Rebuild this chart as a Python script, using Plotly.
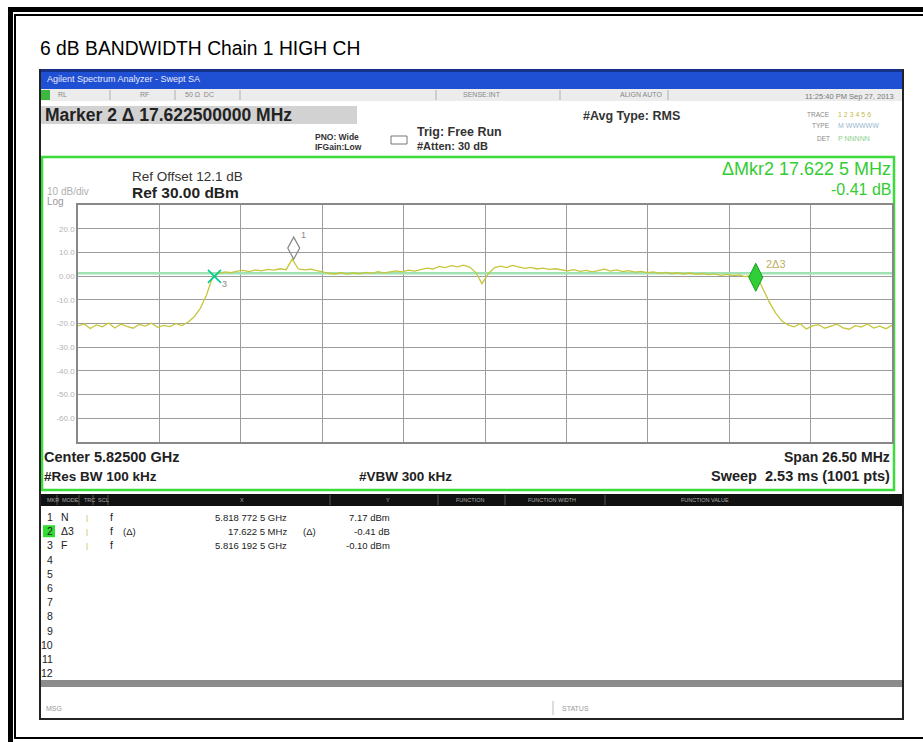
import numpy as np
import plotly.graph_objects as go

W, H = 923, 742

# ---------------- data ----------------
title_text = "6 dB BANDWIDTH Chain 1 HIGH CH"
center_ghz = 5.825
span_mhz = 26.5
ref_level_dbm = 30.0
db_per_div = 10.0

trace_dbm = [
    -21.0, -20.2, -22.1, -20.6, -21.4, -19.8, -21.9, -20.3, -21.2, -22.0,
    -20.4, -21.1, -19.9, -21.6, -20.8, -21.3, -20.1, -20.9, -19.4,
    -17.2, -13.5, -8.0, -0.4, 1.2,
    1.8, 1.5, 2.1, 2.4, 1.9, 2.6, 2.2, 2.8, 2.5, 3.1, 2.7,
    7.17,
    3.0, 2.6, 2.9, 2.3, 1.6, 1.2, 0.9, 1.4, 0.8,
    1.3, 1.0, 1.6, 1.2, 1.9, 1.4, 1.7, 2.2, 1.8, 2.5, 2.1, 2.9,
    3.4, 3.0, 4.1, 3.6, 4.4, 3.9, 4.6, 3.8,
    1.5, -3.2, 0.8, 3.5,
    4.2, 3.6, 4.5, 3.9, 3.3, 3.7, 3.0, 3.4, 2.8, 3.1, 2.6,
    2.2, 2.7, 2.0, 2.4, 1.8, 2.3, 2.9, 2.1, 2.6, 1.9, 2.3, 1.7, 2.0, 1.5,
    1.8, 1.2, 1.6, 1.0, 1.4, 0.9, 1.3, 0.7, 1.1, 0.6, 0.9, 0.3, 0.7, 0.2, 0.5,
    -0.2, 0.3,
    -0.51,
    -5.8, -11.2, -15.6, -18.9, -20.6,
    -21.4, -20.1, -22.3, -21.0, -20.5, -22.0, -21.2, -20.3, -21.8, -22.4,
    -20.9, -21.5, -20.2, -21.9, -21.1, -22.2, -20.7,
]

y_tick_vals = [20, 10, 0, -10, -20, -30, -40, -50, -60]
y_tick_text = ["20.0", "10.0", "0.00", "-10.0", "-20.0", "-30.0", "-40.0", "-50.0", "-60.0"]

marker_ids = ["1", "2", "3"]
marker_freq_ghz = [5.8187725, 5.833815, 5.8161925]
marker_level_dbm = [7.17, -0.51, -0.10]
display_line_dbm = 1.17

table_mkr = ["1", "2", "3", "4", "5", "6", "7", "8", "9", "10", "11", "12"]
table_mode = ["N", "Δ3", "F"]
table_trc = ["1", "1", "1"]
table_scl = ["f", "f", "f"]
table_x = ["5.818 772 5 GHz", "17.622 5 MHz", "5.816 192 5 GHz"]
table_y = ["7.17 dBm", "-0.41 dB", "-0.10 dBm"]

# ---------------- helpers ----------------
FONT = "Liberation Sans, Arial, sans-serif"


def px(x):
    return x / W


def py(y):
    return 1 - y / H


shapes = []
annotations = []


def rect(x0, y0, x1, y1, fill=None, line=None, lw=0):
    d = dict(type="rect", xref="paper", yref="paper",
             x0=px(x0), x1=px(x1), y0=py(y1), y1=py(y0), layer="below")
    if fill:
        d["fillcolor"] = fill
    if line:
        d["line"] = dict(color=line, width=lw)
    else:
        d["line"] = dict(width=0)
    shapes.append(d)


def vline(x, y0, y1, color, lw=1):
    shapes.append(dict(type="line", xref="paper", yref="paper",
                       x0=px(x), x1=px(x), y0=py(y0), y1=py(y1),
                       line=dict(color=color, width=lw)))


def text(x, y, s, size=10, color="black", bold=False, anchor="left", family=FONT):
    if bold:
        s = "<b>" + s + "</b>"
    annotations.append(dict(x=px(x), y=py(y), xref="paper", yref="paper",
                            text=s, showarrow=False, xanchor=anchor, yanchor="middle",
                            font=dict(size=size, color=color, family=family)))


# ---------------- outer page frame ----------------
rect(8, 7, 923, 12, fill="black")
rect(8, 7, 13, 742, fill="black")
rect(14, 14, 923, 16, fill="black")
rect(14, 14, 16, 739, fill="black")
rect(14, 737, 923, 739, fill="black")

text(38, 48, title_text, size=19.3, color="black")

# ---------------- analyzer screenshot ----------------
rect(40, 69, 903, 89, fill="#1f4fd2")
rect(40, 69, 903, 72, fill="#16318a")
text(45, 79, "Agilent Spectrum Analyzer - Swept SA", size=9, color="#e8ecff")

rect(40, 89, 903, 101, fill="#ececec")
rect(41, 90, 50, 100, fill="#3cb83c")
for sx in [110, 175, 240, 436, 560, 668]:
    vline(sx, 90, 100, "#b0b0b0", 1)
text(56, 95, "RL", 7, "#888")
text(138, 95, "RF", 7, "#888")
text(183, 95, "50 Ω  DC", 7, "#888")
text(461, 95, "SENSE:INT", 7, "#888")
text(618, 95, "ALIGN AUTO", 7, "#888")
text(896, 96, "11:25:40 PM Sep 27, 2013", 7.5, "#777", anchor="right")

rect(40, 106, 357, 124, fill="#d2d2d2")
text(43, 115, "Marker 2 Δ 17.622500000 MHz", 17.5, "#222", bold=True)

text(313, 137, "PNO: Wide", 8.5, "#333", bold=True)
text(313, 147, "IFGain:Low", 8.5, "#333", bold=True)
rect(391, 136, 407, 144, line="#777", lw=1)
text(415, 132, "Trig: Free Run", 12.5, "#333", bold=True)
text(415, 146, "#Atten: 30 dB", 11, "#333", bold=True)
text(581, 116, "#Avg Type: RMS", 12.5, "#333", bold=True)

text(832, 114, "TRACE", 6.5, "#888", anchor="right")
text(836, 114, "1 2 3 4 5 6", 7, "#c8b84a")
text(832, 126, "TYPE", 6.5, "#888", anchor="right")
text(836, 126, "M WWWWW", 7, "#9ab8d0")
text(832, 138, "DET", 6.5, "#888", anchor="right")
text(836, 138, "P NNNNN", 7, "#8cd08c")

# green measurement frame
rect(42, 157, 894, 490, line="#3bdc3b", lw=2.5)

text(130, 176, "Ref Offset 12.1 dB", 13.5, "#333")
text(130, 192, "Ref 30.00 dBm", 15.5, "#222", bold=True)
text(45, 191, "10 dB/div", 10, "#b0b0b0")
text(45, 202, "Log", 10, "#999")
text(893, 169, "ΔMkr2 17.622 5 MHz", 18, "#33cc33", anchor="right")
text(893, 189, "-0.41 dB", 16, "#33cc33", anchor="right")

text(42, 457, "Center 5.82500 GHz", 14.5, "#222", bold=True)
text(892, 457, "Span 26.50 MHz", 14, "#222", bold=True, anchor="right")
text(42, 476, "#Res BW 100 kHz", 13.5, "#222", bold=True)
text(357, 476, "#VBW 300 kHz", 13.5, "#222", bold=True)
text(892, 476, "Sweep  2.53 ms (1001 pts)", 14.5, "#222", bold=True, anchor="right")

# marker table
rect(40, 494, 902, 506, fill="#111")
hdr = [(45, "MKR"), (60, "MODE"), (82, "TRC"), (96, "SCL")]
for hx, ht in hdr:
    text(hx, 500, ht, 5.5, "#aaa")
text(242, 500, "X", 5.5, "#aaa", anchor="center")
text(388, 500, "Y", 5.5, "#aaa", anchor="center")
text(470, 500, "FUNCTION", 5.5, "#aaa", anchor="center")
text(552, 500, "FUNCTION WIDTH", 5.5, "#aaa", anchor="center")
text(705, 500, "FUNCTION VALUE", 5.5, "#aaa", anchor="center")
for sx in [57, 79, 93, 108, 330, 438, 505, 605]:
    vline(sx, 495, 505, "#555", 1)

row_y0, row_dy = 517, 14.2
rect(43, row_y0 + row_dy - 6, 55, row_y0 + row_dy + 6, fill="#33dd33")
for i, m in enumerate(table_mkr):
    yy = row_y0 + i * row_dy
    text(55, yy, m, 10.5, "#222", anchor="right")
for i in range(len(table_mode)):
    yy = row_y0 + i * row_dy
    text(59, yy, table_mode[i], 10.5, "#222")
    text(84, yy, "|", 8, "#c8b84a")
    text(108, yy, table_scl[i], 10.5, "#222")
    text(289, yy, table_x[i], 9.5, "#222", anchor="right")
    text(392, yy, table_y[i], 9.5, "#222", anchor="right")
text(121, row_y0 + row_dy, "(Δ)", 9.5, "#222")
text(301, row_y0 + row_dy, "(Δ)", 9.5, "#222")

rect(40, 680, 902, 687, fill="#8c8c8c")
text(44, 708, "MSG", 7, "#999")
vline(553, 701, 715, "#bbb", 1)
text(560, 708, "STATUS", 7, "#999")

# screenshot border
rect(39, 69, 41, 720, fill="#222")
rect(902, 69, 904, 720, fill="#222")
rect(39, 718, 904, 720, fill="#222")

# ---------------- plot ----------------
start = center_ghz - span_mhz / 2000
stop = center_ghz + span_mhz / 2000
freq = np.linspace(start, stop, len(trace_dbm))
x_grid = [start + i * span_mhz / 10000 for i in range(1, 10)]

fig = go.Figure()
fig.add_trace(go.Scatter(x=[start, stop], y=[display_line_dbm, display_line_dbm],
                         mode="lines", line=dict(color="#9fe3b4", width=2.5),
                         hoverinfo="skip"))
fig.add_trace(go.Scatter(x=freq, y=trace_dbm, mode="lines",
                         line=dict(color="#c6c63c", width=1.3), hoverinfo="skip"))

# marker 3 (reference)
fig.add_trace(go.Scatter(x=[marker_freq_ghz[2]], y=[marker_level_dbm[2]], mode="markers",
                         marker=dict(symbol="x-thin-open", size=13,
                                     line=dict(color="#6f8f7a", width=1.6)),
                         hoverinfo="skip"))
# marker 2 (delta)
fig.add_trace(go.Scatter(x=[marker_freq_ghz[1]], y=[marker_level_dbm[1]], mode="markers",
                         marker=dict(symbol="diamond-tall", size=20, color="#2fcf3a",
                                     line=dict(color="#1a9a22", width=1)),
                         hoverinfo="skip"))
# marker 1 diamond above the point
shapes.append(dict(type="path", xref="x", yref="y", xsizemode="pixel", ysizemode="pixel",
                   xanchor=marker_freq_ghz[0], yanchor=marker_level_dbm[0],
                   path="M0,0 L-6,11 L0,22 L6,11 Z",
                   line=dict(color="#888", width=1.2)))
annotations.append(dict(x=marker_freq_ghz[0], y=marker_level_dbm[0], xref="x", yref="y",
                        text=marker_ids[0], showarrow=False, xshift=10, yshift=24,
                        font=dict(size=9, color="#888", family=FONT)))
annotations.append(dict(x=marker_freq_ghz[1], y=marker_level_dbm[1], xref="x", yref="y",
                        text="2Δ3", showarrow=False, xshift=20, yshift=13,
                        font=dict(size=11, color="#c0b060", family=FONT)))
annotations.append(dict(x=marker_freq_ghz[2], y=marker_level_dbm[2], xref="x", yref="y",
                        text=marker_ids[2], showarrow=False, xshift=10, yshift=-8,
                        font=dict(size=9, color="#888", family=FONT)))

fig.update_layout(
    width=W, height=H, margin=dict(l=0, r=0, t=0, b=0),
    paper_bgcolor="white", plot_bgcolor="white", showlegend=False,
    shapes=shapes, annotations=annotations,
    xaxis=dict(domain=[px(78), px(892)], range=[start, stop], tickvals=x_grid,
               showticklabels=False, showgrid=True, gridcolor="#9c9c9c", gridwidth=1,
               zeroline=False, showline=True, mirror=True, linecolor="#888", linewidth=1.5,
               ticks="", fixedrange=True),
    yaxis=dict(domain=[py(442), py(205)], range=[ref_level_dbm - 10 * db_per_div, ref_level_dbm],
               tickvals=y_tick_vals, ticktext=y_tick_text,
               tickfont=dict(size=8, color="#b4b4b4", family=FONT),
               showgrid=True, gridcolor="#9c9c9c", gridwidth=1,
               zeroline=False, showline=True, mirror=True, linecolor="#888", linewidth=1.5,
               ticks="", fixedrange=True),
)

fig.write_html("out.html", config={"displayModeBar": False},
               post_script="document.body.style.margin='0';document.body.style.overflow='hidden';")
